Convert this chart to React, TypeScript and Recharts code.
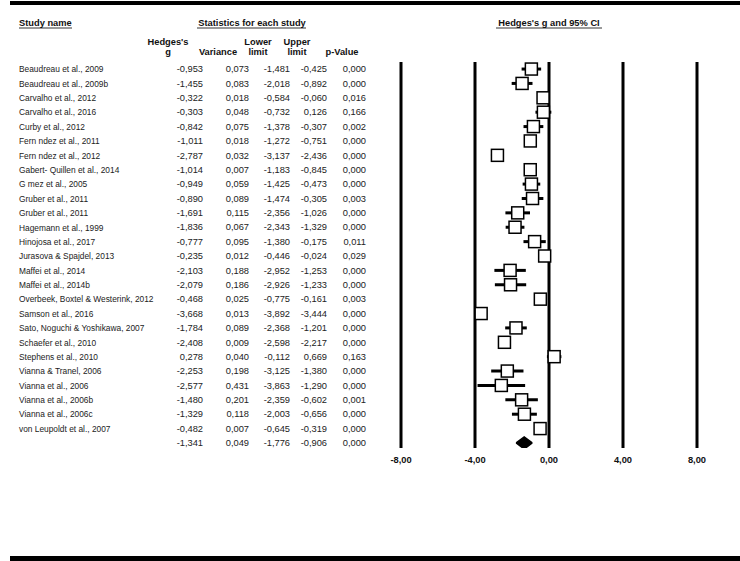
import { Area, ComposedChart, ErrorBar, ReferenceLine, Scatter, XAxis, YAxis } from 'recharts'

const FONT = '"Liberation Sans", Arial, Helvetica, sans-serif'

// 연구 목록 + 통계값
const studies = [
  'Beaudreau et al., 2009',
  'Beaudreau et al., 2009b',
  'Carvalho et al., 2012',
  'Carvalho et al., 2016',
  'Curby et al., 2012',
  'Fern ndez et al., 2011',
  'Fern ndez et al., 2012',
  'Gabert- Quillen et al., 2014',
  'G mez et al., 2005',
  'Gruber et al., 2011',
  'Gruber et al., 2011',
  'Hagemann et al., 1999',
  'Hinojosa et al., 2017',
  'Jurasova & Spajdel, 2013',
  'Maffei et al., 2014',
  'Maffei et al., 2014b',
  'Overbeek, Boxtel & Westerink, 2012',
  'Samson et al., 2016',
  'Sato, Noguchi & Yoshikawa, 2007',
  'Schaefer et al., 2010',
  'Stephens et al., 2010',
  'Vianna & Tranel, 2006',
  'Vianna et al., 2006',
  'Vianna et al., 2006b',
  'Vianna et al., 2006c',
  'von Leupoldt et al., 2007',
]
const hedgesG = [
  -0.953, -1.455, -0.322, -0.303, -0.842, -1.011, -2.787, -1.014, -0.949, -0.89, -1.691, -1.836, -0.777,
  -0.235, -2.103, -2.079, -0.468, -3.668, -1.784, -2.408, 0.278, -2.253, -2.577, -1.48, -1.329, -0.482,
]
const variance = [
  0.073, 0.083, 0.018, 0.048, 0.075, 0.018, 0.032, 0.007, 0.059, 0.089, 0.115, 0.067, 0.095, 0.012, 0.188,
  0.186, 0.025, 0.013, 0.089, 0.009, 0.04, 0.198, 0.431, 0.201, 0.118, 0.007,
]
const lowerLimit = [
  -1.481, -2.018, -0.584, -0.732, -1.378, -1.272, -3.137, -1.183, -1.425, -1.474, -2.356, -2.343, -1.38,
  -0.446, -2.952, -2.926, -0.775, -3.892, -2.368, -2.598, -0.112, -3.125, -3.863, -2.359, -2.003, -0.645,
]
const upperLimit = [
  -0.425, -0.892, -0.06, 0.126, -0.307, -0.751, -2.436, -0.845, -0.473, -0.305, -1.026, -1.329, -0.175,
  -0.024, -1.253, -1.233, -0.161, -3.444, -1.201, -2.217, 0.669, -1.38, -1.29, -0.602, -0.656, -0.319,
]
const pValue = [
  0.0, 0.0, 0.016, 0.166, 0.002, 0.0, 0.0, 0.0, 0.0, 0.003, 0.0, 0.0, 0.011, 0.029, 0.0, 0.0, 0.003, 0.0,
  0.0, 0.0, 0.163, 0.0, 0.0, 0.001, 0.0, 0.0,
]
// 통합 효과 (g, variance, lower, upper, p)
const summaryStats = [-1.341, 0.049, -1.776, -0.906, 0.0]
const xTicks = [-8, -4, 0, 4, 8]

const SUMMARY_ROW = studies.length
const rowTicks = [...studies.map((_, i) => i), SUMMARY_ROW]
// 표 컬럼 오른쪽 끝 x
const VALUE_RIGHT = [203, 249, 290, 327, 366]
const NAME_X = 19

const fmt3 = (v: number) => v.toFixed(3).replace('.', ',')
const fmt2 = (v: number) => v.toFixed(2).replace('.', ',')

const points = studies.map((name, i) => ({
  name,
  x: hedgesG[i],
  y: i,
  ci: [hedgesG[i] - lowerLimit[i], upperLimit[i] - hedgesG[i]],
}))

// 다이아몬드: 하한 - 점추정 - 상한
const DIAMOND_HALF = 0.42
const diamond = [
  { x: summaryStats[2], band: [SUMMARY_ROW, SUMMARY_ROW] },
  { x: summaryStats[0], band: [SUMMARY_ROW - DIAMOND_HALF, SUMMARY_ROW + DIAMOND_HALF] },
  { x: summaryStats[3], band: [SUMMARY_ROW, SUMMARY_ROW] },
]

function RowTick(props: any) {
  const { y, payload } = props
  const i = payload.value as number
  const isSummary = i === SUMMARY_ROW
  const cells = isSummary
    ? summaryStats
    : [hedgesG[i], variance[i], lowerLimit[i], upperLimit[i], pValue[i]]
  return (
    <g fontFamily={FONT} fontSize={9.3} fill="#222">
      {/* 원본은 좁은 글꼴이라 가로로 살짝 압축 */}
      {!isSummary && (
        <text transform={`translate(${NAME_X},${y}) scale(0.9,1)`} dy="0.35em">
          {studies[i]}
        </text>
      )}
      {cells.map((v, k) => (
        <text key={k} x={VALUE_RIGHT[k]} y={y} dy="0.35em" textAnchor="end">
          {fmt3(v)}
        </text>
      ))}
    </g>
  )
}

const Square = (p: any) => (
  <rect x={p.cx - 6} y={p.cy - 6} width={12} height={12} fill="#fff" stroke="#000" strokeWidth={1.5} />
)

function Header() {
  const bold = { fontFamily: FONT, fontWeight: 'bold' as const, fontSize: 9.3, fill: '#111' }
  return (
    <svg
      width={740}
      height={561}
      style={{ position: 'absolute', left: 0, top: 0, pointerEvents: 'none' }}
    >
      <rect x={10} y={1} width={730} height={4} fill="#000" />
      <rect x={10} y={556} width={730} height={5} fill="#000" />

      <text x={19} y={26} {...bold}>Study name</text>
      <line x1={19} x2={72} y1={28} y2={28} stroke="#000" strokeWidth={0.8} />
      <text x={252} y={26} textAnchor="middle" {...bold}>Statistics for each study</text>
      <line x1={197} x2={306} y1={28} y2={28} stroke="#000" strokeWidth={0.8} />
      <text x={549} y={26} textAnchor="middle" {...bold}>Hedges's g and 95% CI</text>
      <line x1={496} x2={602} y1={28} y2={28} stroke="#000" strokeWidth={0.8} />

      <text x={168} y={45} textAnchor="middle" {...bold}>Hedges's</text>
      <text x={168} y={55} textAnchor="middle" {...bold}>g</text>
      <text x={218} y={55} textAnchor="middle" {...bold}>Variance</text>
      <text x={258} y={45} textAnchor="middle" {...bold}>Lower</text>
      <text x={258} y={55} textAnchor="middle" {...bold}>limit</text>
      <text x={297} y={45} textAnchor="middle" {...bold}>Upper</text>
      <text x={297} y={55} textAnchor="middle" {...bold}>limit</text>
      <text x={342} y={55} textAnchor="middle" {...bold}>p-Value</text>
    </svg>
  )
}

export default function App() {
  return (
    <div style={{ position: 'absolute', left: 0, top: 0, width: 740, height: 561, background: '#fff' }}>
      <ComposedChart width={740} height={561} margin={{ top: 62, right: 43, bottom: 83, left: 0 }}>
        <XAxis
          type="number"
          dataKey="x"
          domain={[-8, 8]}
          ticks={xTicks}
          interval={0}
          allowDataOverflow
          tickFormatter={fmt2}
          axisLine={false}
          tickLine={false}
          height={30}
          tick={{ fontSize: 9.3, fontWeight: 'bold', fill: '#111', fontFamily: FONT }}
        />
        <YAxis
          type="number"
          dataKey="y"
          domain={[-0.49, 26.35]}
          reversed
          allowDataOverflow
          ticks={rowTicks}
          interval={0}
          tick={<RowTick />}
          axisLine={false}
          tickLine={false}
          width={401}
        />

        {xTicks.map((t) => (
          <ReferenceLine key={t} x={t} stroke="#000" strokeWidth={3} />
        ))}

        {/* 신뢰구간 선 */}
        <Scatter data={points} shape={() => <g />} isAnimationActive={false}>
          <ErrorBar dataKey="ci" direction="x" width={0} stroke="#000" strokeWidth={3} isAnimationActive={false} />
        </Scatter>

        {/* 효과크기 사각형 */}
        <Scatter data={points} shape={Square} isAnimationActive={false} />

        {/* 통합 효과 다이아몬드 */}
        <Area
          data={diamond}
          dataKey="band"
          type="linear"
          stroke="#000"
          strokeWidth={1.5}
          fill="#000"
          fillOpacity={1}
          dot={false}
          activeDot={false}
          isAnimationActive={false}
        />
      </ComposedChart>
      <Header />
    </div>
  )
}
